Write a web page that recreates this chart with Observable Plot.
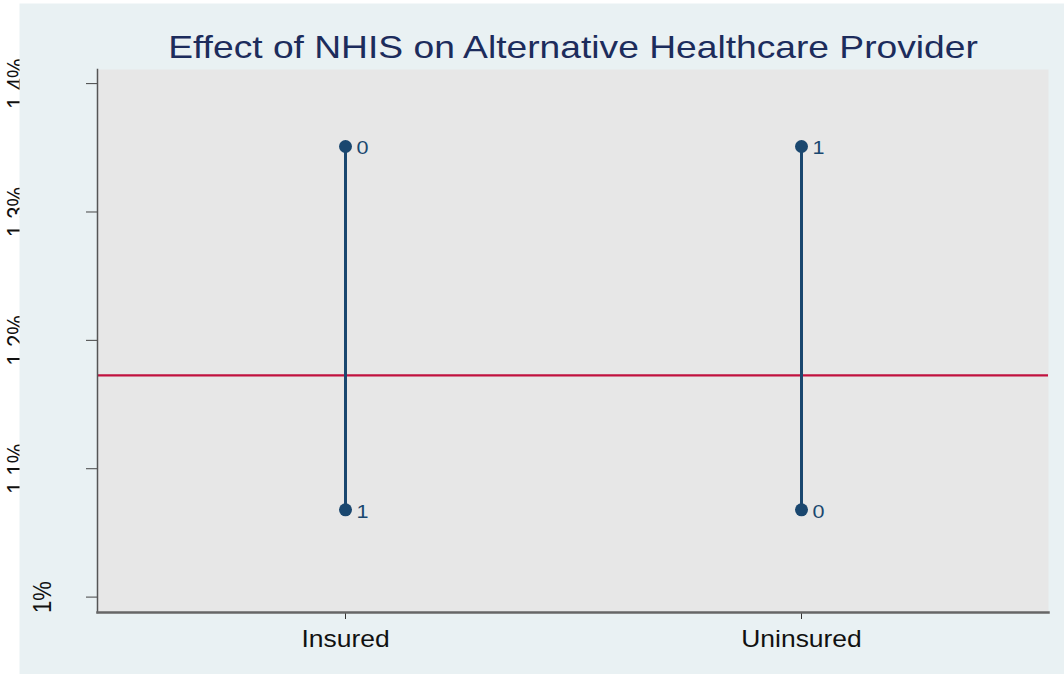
<!DOCTYPE html>
<html>
<head>
<meta charset="utf-8">
<script src="https://cdn.jsdelivr.net/npm/d3@7"></script>
<script src="https://cdn.jsdelivr.net/npm/@observablehq/plot@0.6"></script>
<style>
  html, body { margin: 0; padding: 0; background: #ffffff; }
  #chart svg { display: block; }
</style>
</head>
<body>
<div id="chart"></div>
<script>
// ---- data ----
const title = "Effect of NHIS on Alternative Healthcare Provider";
const categories = ["Insured", "Uninsured"];
const highValues = [1.351, 1.351];
const lowValues = [1.068, 1.068];
const highLabels = ["0", "1"];
const lowLabels = ["1", "0"];
const referenceValue = 1.1727;
const yTicks = [1.0, 1.1, 1.2, 1.3, 1.4];
const yTickLabels = ["1%", "1.1%", "1.2%", "1.3%", "1.4%"];

const ranges = categories.map((c, i) => ({cat: c, low: lowValues[i], high: highValues[i]}));
const points = categories.flatMap((c, i) => [
  {cat: c, v: highValues[i], label: highLabels[i]},
  {cat: c, v: lowValues[i], label: lowLabels[i]}
]);
const tickTable = yTicks.map((v, i) => ({v, label: yTickLabels[i]}));
const hiddenTicks = tickTable.filter(d => d.v !== 1.0);
const visibleTicks = tickTable.filter(d => d.v === 1.0);

const font = "'Liberation Sans', Arial, Helvetica, sans-serif";
const navy = "#1a476f";

const chart = Plot.plot({
  width: 1064,
  height: 674,
  marginLeft: 97,
  marginRight: 16,
  marginTop: 69,
  marginBottom: 62,
  style: {fontFamily: font, background: "#ffffff", overflow: "visible"},
  x: {type: "point", domain: categories, padding: 0.5405},
  y: {domain: [0.988, 1.411]},
  marks: [
    // y tick labels that sit under the outer background
    Plot.text(hiddenTicks, {frameAnchor: "left", y: "v", text: "label", rotate: -90,
      dx: -72, lineAnchor: "bottom", textAnchor: "middle", fontSize: 22, fill: "#111",
      className: "ylab"}),
    // outer background
    Plot.frame({fill: "#e9f1f3", stroke: null, insetLeft: -78, insetTop: -66, insetRight: -16, insetBottom: -62}),
    // plot region
    Plot.frame({fill: "#e7e7e7", stroke: null}),
    Plot.ruleY([referenceValue], {stroke: "#c1123f", strokeWidth: 2.2}),
    Plot.ruleX(ranges, {x: "cat", y1: "low", y2: "high", stroke: navy, strokeWidth: 3}),
    Plot.dot(points, {x: "cat", y: "v", r: 6.5, fill: navy, stroke: null}),
    Plot.text(points, {x: "cat", y: "v", text: "label", textAnchor: "start", dx: 11, dy: 2,
      fontSize: 18, fill: navy, className: "ptlab"}),
    Plot.axisY({ticks: yTicks, tickSize: 11, text: null, stroke: "#444"}),
    Plot.axisX({tickSize: 7, tickPadding: 11, fontSize: 23, stroke: "#333", fill: "#111", label: null,
      className: "xlab"}),
    Plot.frame({anchor: "left", stroke: "#555", strokeWidth: 1.5}),
    Plot.frame({anchor: "bottom", stroke: "#666", strokeWidth: 2.5}),
    Plot.text(visibleTicks, {frameAnchor: "left", y: "v", text: "label", rotate: -90,
      dx: -46, lineAnchor: "bottom", textAnchor: "middle", fontSize: 22, fill: "#111",
      className: "ylab"}),
    Plot.text([title], {frameAnchor: "top", dy: -12, lineAnchor: "bottom", textAnchor: "middle",
      fontSize: 31, fill: "#1c2c5c", className: "ttl"})
  ]
});
document.getElementById("chart").appendChild(chart);

// horizontal stretch of the text, as in the reference rendering
function stretch(el, sx, anchor) {
  const b = el.getBoundingClientRect();
  const sxScreen = anchor === "left" ? b.left : anchor === "right" ? b.right : (b.left + b.right) / 2;
  const m = el.parentNode.getScreenCTM().inverse();
  const p = new DOMPoint(sxScreen, b.top).matrixTransform(m);
  const ox = p.x;
  const g = document.createElementNS("http://www.w3.org/2000/svg", "g");
  g.setAttribute("transform", `translate(${ox},0) scale(${sx},1) translate(${-ox},0)`);
  el.parentNode.insertBefore(g, el);
  g.appendChild(el);
}
chart.querySelectorAll(".ttl text").forEach(t => stretch(t, 1.2, "center"));
chart.querySelectorAll(".xlab text").forEach(t => stretch(t, 1.15, "center"));
chart.querySelectorAll(".ptlab text").forEach(t => stretch(t, 1.2, "left"));
chart.querySelectorAll(".ylab text").forEach(t => stretch(t, 1.2, "right"));
</script>
</body>
</html>
